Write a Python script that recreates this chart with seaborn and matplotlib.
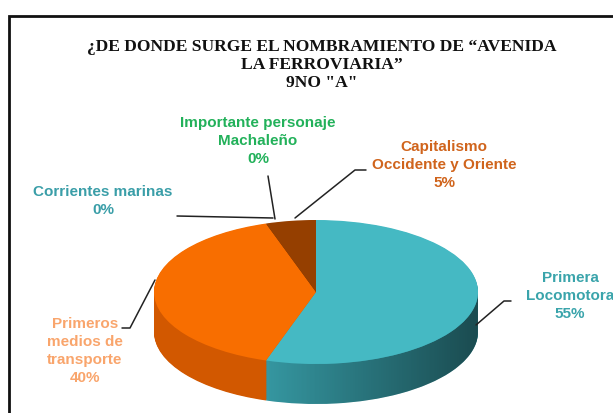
import numpy as np
import matplotlib
matplotlib.use("Agg")
import matplotlib.pyplot as plt
import matplotlib.patches as mpatches
from matplotlib.path import Path
import seaborn as sns

sns.set_theme(style="white")

# data
categories = ["Primera Locomotora", "Primeros medios de transporte",
              "Corrientes marinas", "Importante personaje Machaleño",
              "Capitalismo Occidente y Oriente"]
values = [55, 40, 0, 0, 5]
top_colors = ["#45b9c3", "#f86e00", "#45b9c3", "#22b15a", "#953f00"]
side_colors = ["#3596a0", "#d25800", "#3596a0", "#1a8a45", "#7a3300"]

W, H = 613, 414
fig = plt.figure(figsize=(W / 100, H / 100), dpi=100)
ax = fig.add_axes([0, 0, 1, 1])

# pixel geometry of the pie
CX, CY, RX, RY, DEPTH = 316, 293, 162, 72, 40


def px(x, y):
    return (x - CX) / RX, (CY - y) / RY


D = DEPTH / RY

# side of the 3D pie: stacked pies
n = 60
for k in range(n):
    ax.pie(values, colors=side_colors, startangle=90, counterclock=False,
           center=(0, -D * (1 - k / n)), radius=1,
           wedgeprops=dict(linewidth=0))

# darkening gradient over the side band
t = np.linspace(np.pi, 2 * np.pi, 200)
xs = np.cos(t)
top_arc = np.column_stack([xs, np.sin(t)])
bot_arc = np.column_stack([xs[::-1], np.sin(t[::-1]) - D])
band = np.vstack([top_arc, bot_arc, top_arc[:1]])
clip = mpatches.PathPatch(Path(band), transform=ax.transData,
                          facecolor="none", edgecolor="none")
ax.add_patch(clip)
grad = np.linspace(0, 1, 256)
alpha = np.clip((grad - 0.35) / 0.65, 0, 1) * 0.5
img = np.zeros((1, 256, 4))
img[..., 3] = alpha
im = ax.imshow(img, extent=(-1, 1, -1 - D, 0), aspect="auto", zorder=3)
im.set_clip_path(clip)

# top face
wedges, _ = ax.pie(values, colors=top_colors, startangle=90, counterclock=False,
                   center=(0, 0), radius=1, wedgeprops=dict(linewidth=0))
for w in wedges:
    w.set_zorder(4)

ax.set_xlim(px(0, 0)[0], px(W, 0)[0])
ax.set_ylim(px(0, H)[1], px(0, 0)[1])
ax.set_aspect("auto")
ax.axis("off")

# labels and leader lines
lab_font = dict(family="Liberation Sans", fontweight="bold", fontsize=11,
                ha="center", va="center", linespacing=1.38, zorder=6)
labels = [
    ("Importante personaje\nMachaleño\n0%", (258, 141), "#22b15a",
     [(268, 177), (275, 220)]),
    ("Corrientes marinas\n0%", (103, 201), "#3a9ea8",
     [(177, 217), (273, 219)]),
    ("Capitalismo\nOccidente y Oriente\n5%", (444, 165), "#d0641c",
     [(366, 171), (355, 171), (295, 219)]),
    ("Primera\nLocomotora\n55%", (570, 296), "#3aa4ab",
     [(511, 302), (504, 302), (476, 326)]),
    ("Primeros\nmedios de\ntransporte\n40%", (85, 351), "#f9a56c",
     [(122, 329), (130, 329), (155, 281)]),
]
for text, pos, col, line in labels:
    ax.text(*px(*pos), text, color=col, **lab_font)
    pts = np.array([px(*p) for p in line])
    ax.plot(pts[:, 0], pts[:, 1], color="#222222", lw=1.1, zorder=5)

fig.text(322 / W, 1 - 65 / H,
         "¿DE DONDE SURGE EL NOMBRAMIENTO DE “AVENIDA\nLA FERROVIARIA”\n9NO \"A\"",
         ha="center", va="center", family="Liberation Serif", fontweight="bold",
         fontsize=12.6, linespacing=1.15, color="#111111")

# chart border
border = mpatches.Rectangle((9 / W, -0.1), 1.2, 1 - 17 / H + 0.1,
                            transform=fig.transFigure, fill=False,
                            edgecolor="#111111", lw=2)
fig.patches.append(border)

fig.savefig("out.png", dpi=100)
